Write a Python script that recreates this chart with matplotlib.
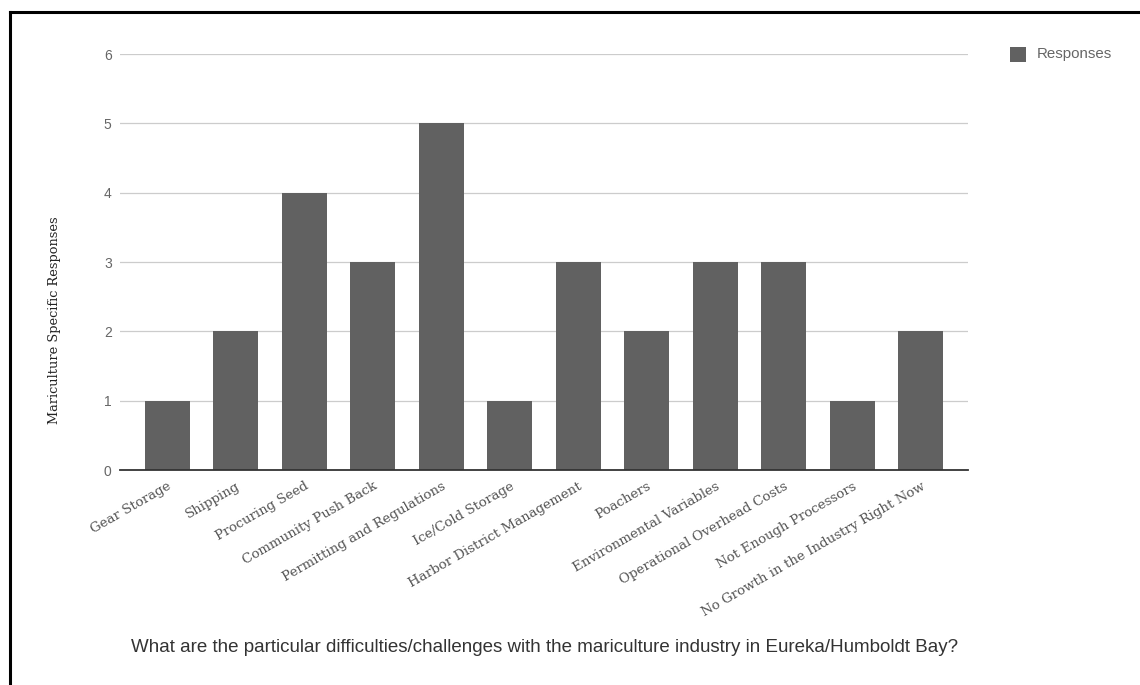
import matplotlib
matplotlib.use("Agg")
import matplotlib.pyplot as plt
from matplotlib.lines import Line2D
from matplotlib.patches import Rectangle

categories = [
    "Gear Storage", "Shipping", "Procuring Seed", "Community Push Back",
    "Permitting and Regulations", "Ice/Cold Storage", "Harbor District Management",
    "Poachers", "Environmental Variables", "Operational Overhead Costs",
    "Not Enough Processors", "No Growth in the Industry Right Now",
]
responses = [1, 2, 4, 3, 5, 1, 3, 2, 3, 3, 1, 2]
y_ticks = [0, 1, 2, 3, 4, 5, 6]

W, H = 1140, 685
fig = plt.figure(figsize=(W / 100, H / 100), dpi=100)
fig.patch.set_facecolor("white")

# axes placement in pixel terms
left, right, top, bottom = 120, 968, 54, 470
ax = fig.add_axes([left / W, 1 - bottom / H, (right - left) / W, (bottom - top) / H])

bar_color = "#616161"
x = list(range(len(categories)))
ax.bar(x, responses, width=0.66, color=bar_color, zorder=3)
ax.set_xlim(-0.69, len(categories) - 1 + 0.69)
ax.set_ylim(0, 6)
ax.set_yticks(y_ticks)
ax.set_yticklabels([str(v) for v in y_ticks], family="Liberation Sans",
                   color="#666666", fontsize=10)
ax.yaxis.grid(True, color="#cccccc", linewidth=0.9, zorder=0)
ax.tick_params(axis="y", length=0, pad=6)
ax.tick_params(axis="x", length=0, pad=7)
for s in ["top", "right", "left"]:
    ax.spines[s].set_visible(False)
ax.spines["bottom"].set_color("#333333")
ax.spines["bottom"].set_linewidth(1.3)
ax.spines["bottom"].set_zorder(4)

ax.set_xticks(x)
ax.set_xticklabels(categories, rotation=30, ha="right", rotation_mode="anchor",
                   family="DejaVu Serif", fontsize=9.6, color="#555555")

# axis title sits centred over the plot plus its category labels
fig.text(55 / W, 1 - 320 / H, "Mariculture Specific Responses", rotation=90,
         ha="center", va="center", family="DejaVu Serif", fontsize=9.3,
         color="#222222")

fig.text(544.5 / W, 1 - 648 / H,
         "What are the particular difficulties/challenges with the mariculture industry in Eureka/Humboldt Bay?",
         ha="center", va="center", family="Liberation Sans", fontsize=13.5,
         color="#333333")

# legend
fig.add_artist(Rectangle((1010 / W, 1 - 62 / H), 16 / W, 15 / H,
                         transform=fig.transFigure, facecolor=bar_color,
                         edgecolor="none"))
fig.text(1037 / W, 1 - 54 / H, "Responses", ha="left", va="center",
         family="Liberation Sans", fontsize=10.8, color="#666666")

# frame lines at top and left
fig.add_artist(Line2D([9.5 / W, 1.0], [1 - 12 / H, 1 - 12 / H], color="black",
                      linewidth=2.2, transform=fig.transFigure))
fig.add_artist(Line2D([9.5 / W, 9.5 / W], [0, 1 - 12 / H], color="black",
                      linewidth=2.2, transform=fig.transFigure))

fig.savefig("out.png", dpi=100)
